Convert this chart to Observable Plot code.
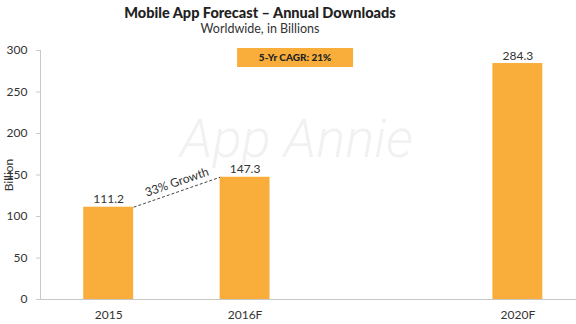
<!DOCTYPE html>
<html>
<head>
<meta charset="utf-8">
<script src="https://cdn.jsdelivr.net/npm/d3@7"></script>
<script src="https://cdn.jsdelivr.net/npm/@observablehq/plot@0.6"></script>
<style>
  body { margin: 0; background: #fff; font-family: Lato, "Open Sans", sans-serif; }
  #header { width: 520px; height: 40px; text-align: center; color: #222; }
  #title { font-weight: 900; font-size: 14.5px; padding-top: 5px; line-height: 16px; }
  #subtitle { font-size: 12.5px; line-height: 16px; color: #333; }
  svg { display: block; }
</style>
</head>
<body>
<div id="header">
  <div id="title">Mobile App Forecast – Annual Downloads</div>
  <div id="subtitle">Worldwide, in Billions</div>
</div>
<div id="chart"></div>
<script>
// Data
const categories = ["2015", "2016F", "2020F"];
const slots = [0, 1, 3];              // slot index along the axis (2017–2019 left empty)
const downloads = [111.2, 147.3, 284.3];
const yTicks = [0, 50, 100, 150, 200, 250, 300];
const growthLabel = "33% Growth";
const cagrLabel = "5-Yr CAGR: 21%";
const yLabel = "Billion";
const watermark = "App Annie";

const xDomain = [-0.5, 3.43];
const half = 0.183;
const barColor = "#F9AE3B";

const data = categories.map((c, i) => ({cat: c, slot: slots[i], value: downloads[i]}));
const growth = [{
  x1: data[0].slot + half, x2: data[1].slot - half,
  y1: data[0].value, y2: data[1].value
}];
const growthMid = [{x: (growth[0].x1 + growth[0].x2) / 2, y: (growth[0].y1 + growth[0].y2) / 2, label: growthLabel}];

const boxSymbol = {draw(ctx) { ctx.rect(-58, -9.5, 116, 19); }};

const chart = Plot.plot({
  width: 576,
  height: 284,
  marginTop: 10,
  marginBottom: 25,
  marginLeft: 40,
  marginRight: 0,
  style: {fontFamily: "Lato, 'Open Sans', sans-serif", fontSize: "11px", color: "#333"},
  x: {domain: xDomain, axis: null},
  y: {domain: [0, 300], axis: null},
  marks: [
    Plot.text([watermark], {frameAnchor: "middle", dx: -12, dy: -35, text: d => d, fontSize: 54,
      fontStyle: "italic", fontWeight: 300, fontFamily: "Roboto, sans-serif", fill: "#f1f1f1"}),
    Plot.ruleX([xDomain[0]], {y1: 0, y2: 300, stroke: "#c8c8c8"}),
    Plot.ruleY([0], {stroke: "#c8c8c8"}),
    Plot.axisY({ticks: yTicks, tickSize: 4, tickPadding: 9, stroke: "#c8c8c8", fill: "#333",
      fontSize: 12, label: yLabel, labelAnchor: "center", labelOffset: 36, labelArrow: false}),
    Plot.axisX({ticks: slots, tickSize: 0, tickPadding: 11, fontSize: 12, fill: "#333",
      tickFormat: s => categories[slots.indexOf(s)], label: null}),
    Plot.rectY(data, {x1: d => d.slot - half, x2: d => d.slot + half, y1: 0, y2: "value", fill: barColor}),
    Plot.text(data, {x: "slot", y: "value", text: d => d.value.toFixed(1), lineAnchor: "bottom", dy: -4,
      fontSize: 12, fill: "#333"}),
    Plot.link(growth, {x1: "x1", x2: "x2", y1: "y1", y2: "y2", stroke: "#444", strokeDasharray: "3,2", strokeWidth: 1}),
    Plot.text(growthMid, {x: "x", y: "y", text: "label", rotate: -19, dy: -10, fontSize: 12, fill: "#333"}),
    Plot.dot([cagrLabel], {x: 1, y: 291.5, dx: 50, symbol: boxSymbol, fill: barColor, stroke: null, r: 5}),
    Plot.text([cagrLabel], {x: 1, y: 291.5, dx: 50, text: d => d, fontWeight: 900, fontSize: 10, fill: "#222"})
  ]
});
document.getElementById("chart").appendChild(chart);
</script>
</body>
</html>
